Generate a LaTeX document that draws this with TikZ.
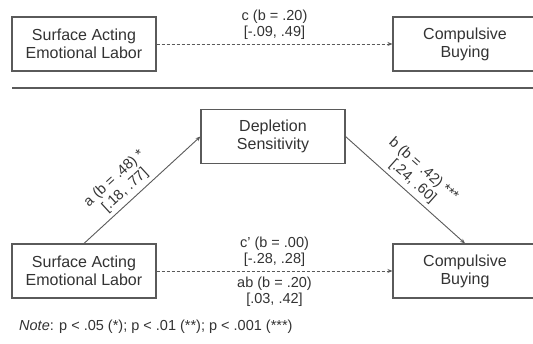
\documentclass[tikz,border=0pt]{standalone}
\usepackage{fontspec}
\setmainfont{Liberation Sans}
\usetikzlibrary{arrows.meta}
\definecolor{linegray}{HTML}{5A5A5A}
\definecolor{txtgray}{HTML}{333333}
\begin{document}
\begin{tikzpicture}[x=1pt,y=-1pt,
  varbox/.style={draw=linegray,line width=1.1pt,minimum width=144pt,minimum height=54pt,inner sep=0pt,
    align=center,text=txtgray,font=\fontsize{16}{18}\selectfont},
  lbl/.style={align=center,text=txtgray,font=\fontsize{14.5}{16}\selectfont,inner sep=1pt},
  conn/.style={draw=linegray,line width=0.9pt,-{Stealth[length=5pt,width=4pt]}},
  dconn/.style={conn,dash pattern=on 3pt off 2pt}]
\useasboundingbox[fill=white] (0,0) rectangle (533,344);
\node[varbox] (tl) at (84,44) {Surface Acting\\Emotional Labor};
\node[varbox] (tr) at (465,44) {Compulsive\\Buying};
\node[varbox] (dep) at (273,136.5) {Depletion\\Sensitivity};
\node[varbox] (bl) at (84,271) {Surface Acting\\Emotional Labor};
\node[varbox] (br) at (465,271) {Compulsive\\Buying};
\coordinate (sepL) at (12,88);
\coordinate (sepR) at (540,88);
\draw[linegray,line width=1.1pt] (sepL) -- (sepR);
\draw[dconn] (tl) -- node[lbl,above=3pt] {c (b = .20)\\{}[-.09, .49]} (tr);
\draw[conn] (bl.north) -- node[lbl,sloped,above=3pt,pos=0.42] {a (b = .48) *\\{}[.18, .77]} (dep.west);
\draw[conn] (dep.east) -- node[lbl,sloped,above=3pt,pos=0.5] {b (b = .42) ***\\{}[.24, .60]} (br.north);
\draw[dconn] (bl) -- node[lbl,above=3pt] {c' (b = .00)\\{}[-.28, .28]}
  node[lbl,below=5pt] {ab (b = .20)\\{}[.03, .42]} (br);
\node[lbl,anchor=west] (note) at (18,327) {\textit{Note}: p < .05 (*); p < .01 (**); p < .001 (***)};
\end{tikzpicture}
\end{document}
